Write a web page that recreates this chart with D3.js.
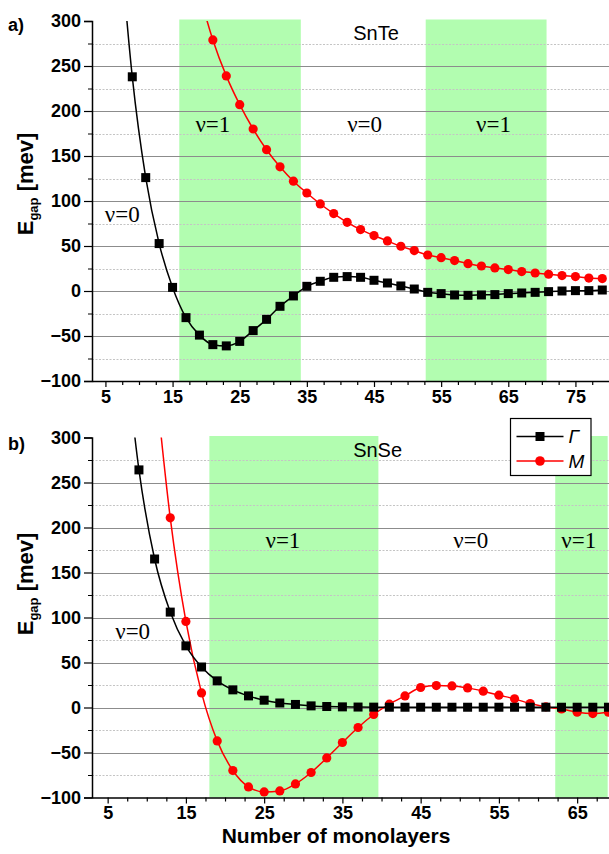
<!DOCTYPE html>
<html>
<head>
<meta charset="utf-8">
<script src="https://cdnjs.cloudflare.com/ajax/libs/d3/7.8.5/d3.min.js"></script>
<style>
    body { margin: 0; background: #fff; }
    .tick text { font-family: "Liberation Sans", Arial, sans-serif; font-weight: bold; font-size: 18px; fill: #000; }
    .nu { font-family: "Liberation Serif", "Times New Roman", serif; font-size: 23px; }
    .mat { font-family: "Liberation Sans", Arial, sans-serif; font-size: 20px; }
</style>
</head>
<body>
<script>
//SnTe - gap at Gamma and M (meV) vs number of monolayers
var snteGammaX = [7, 9, 11, 13, 15, 17, 19, 21, 23, 25, 27, 29, 31, 33, 35, 37, 39, 41, 43, 45, 47, 49, 51, 53, 55, 57, 59, 61, 63, 65, 67, 69, 71, 73, 75, 77, 79];
var snteGamma = [405, 238, 126, 52.7, 4, -29.6, -49, -59.6, -61, -56, -44, -31.5, -17, -5.5, 5.2, 10.8, 15.2, 16, 15.2, 11.9, 8.9, 5.6, 2.2, -1.5, -2.9, -4.4, -4.8, -4.4, -4, -2.9, -2.2, -1.5, -0.7, 0, 0.4, 0.4, 1.1];
var snteMX = [19, 21, 23, 25, 27, 29, 31, 33, 35, 37, 39, 41, 43, 45, 47, 49, 51, 53, 55, 57, 59, 61, 63, 65, 67, 69, 71, 73, 75, 77, 79];
var snteM = [330, 279, 239, 207, 180, 157, 138, 122, 108.9, 96.7, 86, 76.3, 68.2, 61.6, 55.6, 49.7, 44.9, 40, 37, 33.8, 30.4, 27.8, 25.6, 23.8, 21.6, 20, 18.6, 17.1, 16, 14.4, 13.8];

//SnSe
var snseGammaX = [7, 9, 11, 13, 15, 17, 19, 21, 23, 25, 27, 29, 31, 33, 35, 37, 39, 41, 43, 45, 47, 49, 51, 53, 55, 57, 59, 61, 63, 65, 67, 69];
var snseGamma = [420, 264, 165, 106, 68.5, 45, 29.6, 19.6, 12.9, 8.1, 5, 3.4, 1.8, 1.1, 0.7, 0.5, 0.4, 0.3, 0.3, 0.3, 0.3, 0.3, 0.3, 0.3, 0.3, 0.3, 0.3, 0.3, 0.3, 0.3, 0.3, 0.3];
var snseMX = [11, 13, 15, 17, 19, 21, 23, 25, 27, 29, 31, 33, 35, 37, 39, 41, 43, 45, 47, 49, 51, 53, 55, 57, 59, 61, 63, 65, 67, 69];
var snseM = [373, 210.7, 95.6, 16.2, -37.1, -70, -88.2, -93.8, -92.7, -84.9, -72.2, -56, -38.9, -22.2, -7.8, 3.7, 12.9, 22.2, 24.4, 24, 21.8, 18.1, 13.7, 9.6, 4.4, 0.7, -1.6, -5.2, -6.7, -5.2];

//topological (nu=1) ranges
var snteBands = [[16, 34.1], [52.7, 70.7]];
var snseBands = [[18, 39.6], [62.2, 68.9]];

//ticks
var snteXLabels = [5, 15, 25, 35, 45, 55, 65, 75];
var snseXLabels = [5, 15, 25, 35, 45, 55, 65];
var yLabels = [-100, -50, 0, 50, 100, 150, 200, 250, 300];

var width = 609,
    height = 854;

var svg = d3.select("body")
    .append("svg")
    .attr("width", width)
    .attr("height", height);

//panel a
drawPanel({
    id: "a",
    top: 21, bottom: 381,
    xDomain: [3, 80],
    xLabels: snteXLabels,
    bands: snteBands,
    gammaX: snteGammaX, gamma: snteGamma,
    mX: snteMX, m: snteM,
    letter: "a)", letterY: 31,
    labelY: 184,
    material: "SnTe", materialPos: [45.3, 278.6],
    nuLabels: [["ν=1", 21, 176.7], ["ν=0", 7.5, 76.7], ["ν=0", 43.6, 176.7], ["ν=1", 62.8, 176.7]],
    legend: false
});

//panel b
drawPanel({
    id: "b",
    top: 437.5, bottom: 797.5,
    xDomain: [3, 69.07],
    xLabels: snseXLabels,
    bands: snseBands,
    gammaX: snseGammaX, gamma: snseGamma,
    mX: snseMX, m: snseM,
    letter: "b)", letterY: 450,
    labelY: 584,
    material: "SnSe", materialPos: [39.5, 277.8],
    nuLabels: [["ν=1", 27.4, 176.7], ["ν=0", 8.2, 75.6], ["ν=0", 51.4, 176.7], ["ν=1", 65.2, 176.7]],
    legend: true
});

//x axis title
svg.append("text")
    .attr("x", 336)
    .attr("y", 843)
    .attr("text-anchor", "middle")
    .style("font-family", "Liberation Sans, Arial, sans-serif")
    .style("font-weight", "bold")
    .style("font-size", "21px")
    .text("Number of monolayers");

function drawPanel(p){
    var left = 92, right = 609;

    var x = d3.scaleLinear().domain(p.xDomain).range([left, right]);
    var y = d3.scaleLinear().domain([-100, 300]).range([p.bottom, p.top]);

    var g = svg.append("g");

    //clip for the data
    svg.append("clipPath")
        .attr("id", "clip-" + p.id)
        .append("rect")
        .attr("x", left)
        .attr("y", p.top)
        .attr("width", right - left + 10)
        .attr("height", p.bottom - p.top);

    //green bands
    g.selectAll(".band")
        .data(p.bands)
        .enter()
        .append("rect")
        .attr("x", function(d){ return x(d[0]); })
        .attr("width", function(d){ return x(d[1]) - x(d[0]); })
        .attr("y", p.top - 1.5)
        .attr("height", p.bottom - p.top + 1.5)
        .attr("fill", "#b2fdb0");

    //minor dotted grid
    var minor = [-75, -25, 25, 75, 125, 175, 225, 275];
    g.selectAll(".minor")
        .data(minor)
        .enter()
        .append("line")
        .attr("x1", left).attr("x2", right)
        .attr("y1", function(d){ return Math.round(y(d)) + 0.5; })
        .attr("y2", function(d){ return Math.round(y(d)) + 0.5; })
        .attr("stroke", "#c4c4c4")
        .attr("stroke-dasharray", "2,1.5");

    //major grid
    var major = [-50, 0, 50, 100, 150, 200, 250];
    g.selectAll(".major")
        .data(major)
        .enter()
        .append("line")
        .attr("x1", left).attr("x2", right)
        .attr("y1", function(d){ return Math.round(y(d)) + 0.5; })
        .attr("y2", function(d){ return Math.round(y(d)) + 0.5; })
        .attr("stroke", "#8c8c8c")
        .attr("stroke-width", 1.2);

    //texts inside the plot
    g.append("text")
        .attr("class", "mat")
        .attr("x", x(p.materialPos[0]))
        .attr("y", y(p.materialPos[1]))
        .attr("text-anchor", "middle")
        .text(p.material);

    g.selectAll(".nu")
        .data(p.nuLabels)
        .enter()
        .append("text")
        .attr("class", "nu")
        .attr("x", function(d){ return x(d[1]); })
        .attr("y", function(d){ return y(d[2]); })
        .attr("text-anchor", "middle")
        .text(function(d){ return d[0]; });

    //data
    var line = d3.line()
        .x(function(d){ return x(d[0]); })
        .y(function(d){ return y(d[1]); })
        .curve(d3.curveMonotoneX);

    var gam = d3.zip(p.gammaX, p.gamma),
        mm = d3.zip(p.mX, p.m);

    var dataG = g.append("g").attr("clip-path", "url(#clip-" + p.id + ")");

    dataG.append("path")
        .datum(mm)
        .attr("d", line)
        .attr("fill", "none")
        .attr("stroke", "#ff0000")
        .attr("stroke-width", 1.5);

    dataG.append("path")
        .datum(gam)
        .attr("d", line)
        .attr("fill", "none")
        .attr("stroke", "#000")
        .attr("stroke-width", 1.5);

    dataG.selectAll(".mpt")
        .data(mm)
        .enter()
        .append("circle")
        .attr("cx", function(d){ return x(d[0]); })
        .attr("cy", function(d){ return y(d[1]); })
        .attr("r", 4.6)
        .attr("fill", "#ff0000");

    dataG.selectAll(".gpt")
        .data(gam)
        .enter()
        .append("rect")
        .attr("x", function(d){ return x(d[0]) - 4.5; })
        .attr("y", function(d){ return y(d[1]) - 4.5; })
        .attr("width", 9)
        .attr("height", 9)
        .attr("fill", "#000");

    //axes
    var yAxis = d3.axisLeft(y)
        .tickValues(yLabels)
        .tickSize(8)
        .tickPadding(3);
    var ya = g.append("g")
        .attr("transform", "translate(" + left + ",0)")
        .call(yAxis);
    ya.select(".domain").attr("stroke-width", 1.5);
    ya.selectAll(".tick line").attr("stroke-width", 1.2);

    //minor y ticks
    g.append("g")
        .attr("transform", "translate(" + left + ",0)")
        .call(d3.axisLeft(y).tickValues(minor).tickSize(4).tickFormat(""))
        .call(function(s){ s.select(".domain").remove(); });

    var xAxis = d3.axisBottom(x)
        .tickValues(p.xLabels)
        .tickSize(6)
        .tickPadding(3)
        .tickSizeOuter(0);
    var xa = g.append("g")
        .attr("transform", "translate(0," + p.bottom + ")")
        .call(xAxis);
    xa.select(".domain").attr("stroke-width", 1.5);
    xa.selectAll(".tick line").attr("stroke-width", 1.2);

    //minor x ticks every 2.5
    var xMinor = [];
    for (var v = 5; v < p.xDomain[1]; v += 2.5){
        if ((v - 5) % 10 !== 0) xMinor.push(v);
    }
    g.append("g")
        .attr("transform", "translate(0," + p.bottom + ")")
        .call(d3.axisBottom(x).tickValues(xMinor).tickSize(4).tickFormat(""))
        .call(function(s){ s.select(".domain").remove(); s.selectAll("line").attr("stroke-width", 1.2); });

    //panel letter
    svg.append("text")
        .attr("x", 8)
        .attr("y", p.letterY)
        .style("font-family", "Liberation Sans, Arial, sans-serif")
        .style("font-weight", "bold")
        .style("font-size", "18px")
        .text(p.letter);

    //y axis title
    var yt = svg.append("text")
        .attr("transform", "translate(33," + p.labelY + ") rotate(-90)")
        .attr("text-anchor", "middle")
        .style("font-family", "Liberation Sans, Arial, sans-serif")
        .style("font-weight", "bold")
        .style("font-size", "22px");
    yt.append("tspan").text("E");
    yt.append("tspan").attr("dy", 5).style("font-size", "13px").text("gap");
    yt.append("tspan").attr("dy", -5).text(" [mev]");

    //legend
    if (p.legend){
        var lg = svg.append("g").attr("transform", "translate(510.5,418.5)");
        lg.append("rect")
            .attr("width", 80.5)
            .attr("height", 57)
            .attr("fill", "#fff")
            .attr("stroke", "#000")
            .attr("stroke-width", 1.2);
        var items = [["Γ", "#000", "sq"], ["M", "#ff0000", "ci"]];
        items.forEach(function(it, i){
            var ly = 18 + i * 24.5;
            lg.append("line")
                .attr("x1", 6).attr("x2", 53)
                .attr("y1", ly).attr("y2", ly)
                .attr("stroke", it[1])
                .attr("stroke-width", 1.5);
            if (it[2] === "sq"){
                lg.append("rect").attr("x", 25).attr("y", ly - 4.5).attr("width", 9).attr("height", 9).attr("fill", it[1]);
            } else {
                lg.append("circle").attr("cx", 29.5).attr("cy", ly).attr("r", 4.8).attr("fill", it[1]);
            }
            lg.append("text")
                .attr("x", 58)
                .attr("y", ly + 6.5)
                .style("font-family", "Liberation Sans, Arial, sans-serif")
                .style("font-style", "italic")
                .style("font-size", "19px")
                .text(it[0]);
        });
    }
}
</script>
</body>
</html>
